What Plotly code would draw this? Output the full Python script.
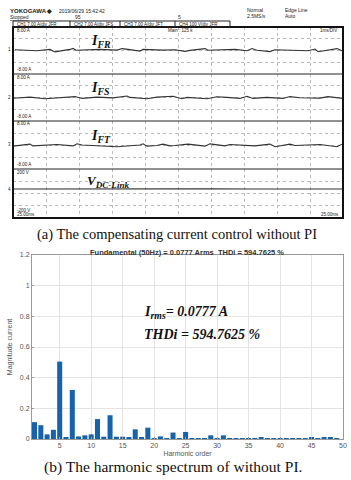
import plotly.graph_objects as go

# ---- oscilloscope traces (time in ms, current in A, voltage in V) ----
t_fr = [0.15, 1.82, 2.80, 3.18, 4.32, 4.55, 4.77, 6.59, 7.88, 8.26, 8.71, 9.62, 9.85, 11.36, 12.27,
        13.03, 13.41, 14.55, 14.77, 16.82, 17.73, 18.11, 18.48, 19.47, 19.85, 22.35, 22.88, 23.11, 24.55, 24.92]
i_fr = [0.26, -0.09, 0.37, -0.48, 0.37, 0.71, 0.09, 0.37, 0.14, 0.65, 0.37, -0.20, 0.37, 0.14, 0.26,
        -0.31, 0.03, 0.65, 0.09, 0.37, -0.09, 0.65, 0.09, -0.37, 0.26, -0.09, 0.48, -0.43, 0.65, -0.09]

t_fs = [0.0, 1.29, 2.42, 4.09, 4.70, 5.23, 6.36, 7.58, 8.64, 8.86, 10.15, 10.91, 12.12, 12.80, 13.18,
        14.70, 15.45, 16.21, 17.20, 17.73, 18.18, 19.24, 20.45, 20.98, 21.74, 23.26, 23.86, 25.0]
i_fs = [-0.26, 0.14, -0.43, 0.03, 0.31, -0.31, 0.14, -0.14, 0.51, 0.03, -0.43, 0.14, 0.43, -0.43, 0.03,
        -0.43, 0.26, 0.03, -0.31, 0.43, -0.31, 0.03, -0.31, 0.31, -0.09, -0.20, 0.31, -0.31]

t_ft = [0.0, 1.06, 1.29, 1.52, 3.33, 4.55, 4.85, 5.23, 6.59, 7.88, 9.62, 9.85, 10.15, 10.91, 11.36,
        11.89, 12.27, 13.26, 14.55, 14.92, 16.06, 16.44, 18.33, 19.47, 19.85, 20.98, 21.36, 23.26, 24.55, 24.92]
i_ft = [-0.39, 0.0, 0.29, -0.29, 0.17, -0.29, 0.39, 0.0, -0.17, -0.56, 0.0, 0.39, -0.39, -0.17, 0.29,
        -0.29, -0.17, 0.29, -0.39, 0.39, -0.29, 0.17, -0.29, 0.29, -0.56, 0.29, -0.17, 0.17, -0.56, 0.29]

t_dc = [0.0, 3.0, 6.0, 9.0, 12.0, 15.0, 18.0, 21.0, 22.5, 23.0, 25.0]
v_dc = [37, 38, 37, 38, 37, 38, 37, 38, 41, 37, 37]

# ---- harmonic spectrum ----
harmonic_order = list(range(1, 50))
magnitude = [0.11, 0.09, 0.03, 0.06, 0.505, 0.012, 0.32, 0.017, 0.024, 0.03,
             0.13, 0.015, 0.155, 0.015, 0.015, 0.01, 0.063, 0.008, 0.074, 0.006,
             0.017, 0.003, 0.042, 0.003, 0.046, 0.005, 0.005, 0.002, 0.024, 0.003,
             0.024, 0.006, 0.005, 0.002, 0.006, 0.006, 0.008, 0.003, 0.002, 0.003,
             0.004, 0.006, 0.002, 0.002, 0.008, 0.003, 0.008, 0.008, 0.006]

W, H = 351, 480
def px(x): return x / W
def py(y): return 1 - y / H

fig = go.Figure()

# scope panels (top, bottom pixel rows)
panels = [(27, 74), (74, 121), (121, 169), (169, 218)]
scope = [(t_fr, i_fr, [-8, 8]), (t_fs, i_fs, [-8, 8]), (t_ft, i_ft, [-8, 8]), (t_dc, v_dc, [-200, 200])]
layout_axes = {}
for k, ((top, bot), (tx, ty, yr)) in enumerate(zip(panels, scope)):
    n = k + 2
    fig.add_trace(go.Scatter(x=tx, y=ty, mode="lines", line=dict(color="#333", width=1.1),
                             xaxis=f"x{n}", yaxis=f"y{n}", hoverinfo="skip"))
    layout_axes[f"xaxis{n}"] = dict(domain=[px(13), px(343)], anchor=f"y{n}", range=[0, 25],
                                    dtick=2.5, showgrid=True, gridcolor="#bbb", griddash="dot",
                                    gridwidth=1, showticklabels=False, zeroline=False, ticks="",
                                    automargin=False)
    layout_axes[f"yaxis{n}"] = dict(domain=[py(bot), py(top)], anchor=f"x{n}", range=yr,
                                    dtick=(yr[1] - yr[0]) / 4, showgrid=True, gridcolor="#bbb",
                                    griddash="dot", showticklabels=False, zeroline=False, ticks="",
                                    automargin=False)

# bar chart
fig.add_trace(go.Bar(x=harmonic_order, y=magnitude, width=0.8, marker=dict(color="#1763ab", line_width=0),
                     xaxis="x", yaxis="y"))

axis_font = dict(family="Liberation Sans", size=7, color="#555")
fig.update_layout(
    width=W, height=H, margin=dict(l=0, r=0, t=0, b=0, pad=0, autoexpand=False),
    paper_bgcolor="white", plot_bgcolor="white", showlegend=False,
    xaxis=dict(domain=[px(32), px(343)], anchor="y", range=[0.6, 50.001], tickvals=list(range(5, 51, 5)),
               showgrid=True, gridcolor="#e3e3e3", zeroline=False, showline=True, linecolor="#999",
               mirror=True, ticks="inside", ticklen=2, tickcolor="#999", automargin=False,
               tickfont=axis_font,
               title=dict(text="Harmonic order", font=axis_font, standoff=2)),
    yaxis=dict(domain=[py(439), py(255)], anchor="x", range=[0, 1.2], dtick=0.2,
               showgrid=True, gridcolor="#e3e3e3", zeroline=False, showline=True, linecolor="#999",
               mirror=True, ticks="inside", ticklen=2, tickcolor="#999", automargin=False,
               tickfont=axis_font,
               title=dict(text="Magnitude current", font=axis_font, standoff=6)),
    **layout_axes,
)

shapes = [dict(type="rect", xref="paper", yref="paper", x0=px(13), x1=px(343), y0=py(218), y1=py(27),
               line=dict(color="#111", width=2))]
for y in (74, 121, 169):
    shapes.append(dict(type="line", xref="paper", yref="paper", x0=px(13), x1=px(343), y0=py(y), y1=py(y),
                       line=dict(color="#222", width=1)))
# channel box row
shapes.append(dict(type="rect", xref="paper", yref="paper", x0=px(13), x1=px(230), y0=py(27), y1=py(21),
                   line=dict(color="#222", width=1)))
for x in (70, 120, 175):
    shapes.append(dict(type="line", xref="paper", yref="paper", x0=px(x), x1=px(x), y0=py(27), y1=py(21),
                       line=dict(color="#222", width=1)))
fig.update_layout(shapes=shapes)

def note(x, y, text, size=5, family="Liberation Sans", color="#222", xanchor="left"):
    fig.add_annotation(x=px(x), y=py(y), xref="paper", yref="paper", text=text, showarrow=False,
                       xanchor=xanchor, yanchor="middle", font=dict(family=family, size=size, color=color))

# scope header
note(8, 11, "<b>YOKOGAWA ◆</b>", size=6)
note(57, 11, "2019/06/29 15:42:42")
note(8, 17, "<u>Stopped</u>")
note(73, 17, "95")
note(176, 17, "5")
note(15, 24, "CH1 7.00 A/div JFR", size=4.5)
note(72, 24, "CH2 7.00 A/div JFS", size=4.5)
note(122, 24, "CH3 7.00 A/div JFT", size=4.5)
note(177, 24, "CH4 100 V/div JFR", size=4.5)
note(245, 10, "Normal")
note(245, 16, "2.5MS/s")
note(283, 10, "Edge Line")
note(283, 16, "Auto")
note(166, 30, "Main : 125 k", size=4.5)
note(339, 30, "1ms/DIV", size=4.5, xanchor="right")
for k, (top, bot) in enumerate(panels[:3]):
    note(15, top + 3, "8.00 A", size=4.5)
    note(15, bot - 5, "-8.00 A", size=4.5)
note(15, 172, "200 V", size=4.5)
note(15, 210, "-200 V", size=4.5)
note(15, 214, "25.00ms", size=4.5)
note(341, 214, "25.00ms", size=4.5, xanchor="right")
for k, y in enumerate((50, 98, 145, 189)):
    note(9, y, str(k + 1), size=4.5, xanchor="center")

serif = "Liberation Serif"
note(89, 41, "<b><i>I<sub>FR</sub></i></b>", size=14, family=serif, color="#111")
note(89, 88, "<b><i>I<sub>FS</sub></i></b>", size=14, family=serif, color="#111")
note(89, 136, "<b><i>I<sub>FT</sub></i></b>", size=14, family=serif, color="#111")
note(85, 181, "<b><i>V<sub>DC-Link</sub></i></b>", size=13, family=serif, color="#111")

note(177, 234, "(a) The compensating current control without PI", size=14.5, family=serif,
     color="#111", xanchor="center")

# spectrum annotations
note(187, 252, "<b>Fundamental (50Hz) = 0.0777 Arms  THDi = 594.7625 %</b>", size=7.5,
     color="#333", xanchor="center")
note(142, 312, "<b><i>I<sub>rms</sub>= 0.0777 A</i></b>", size=14, family=serif, color="#111")
note(142, 334, "<b><i>THDi = 594.7625 %</i></b>", size=14, family=serif, color="#111")
note(173, 467, "(b) The harmonic spectrum of without PI.", size=15.5, family=serif,
     color="#111", xanchor="center")

# the page body has a default 8px margin; drop it so the figure sits at the window's corner
fig.write_html("out.html", config={"displayModeBar": False},
               post_script="document.body.style.margin='0';")
